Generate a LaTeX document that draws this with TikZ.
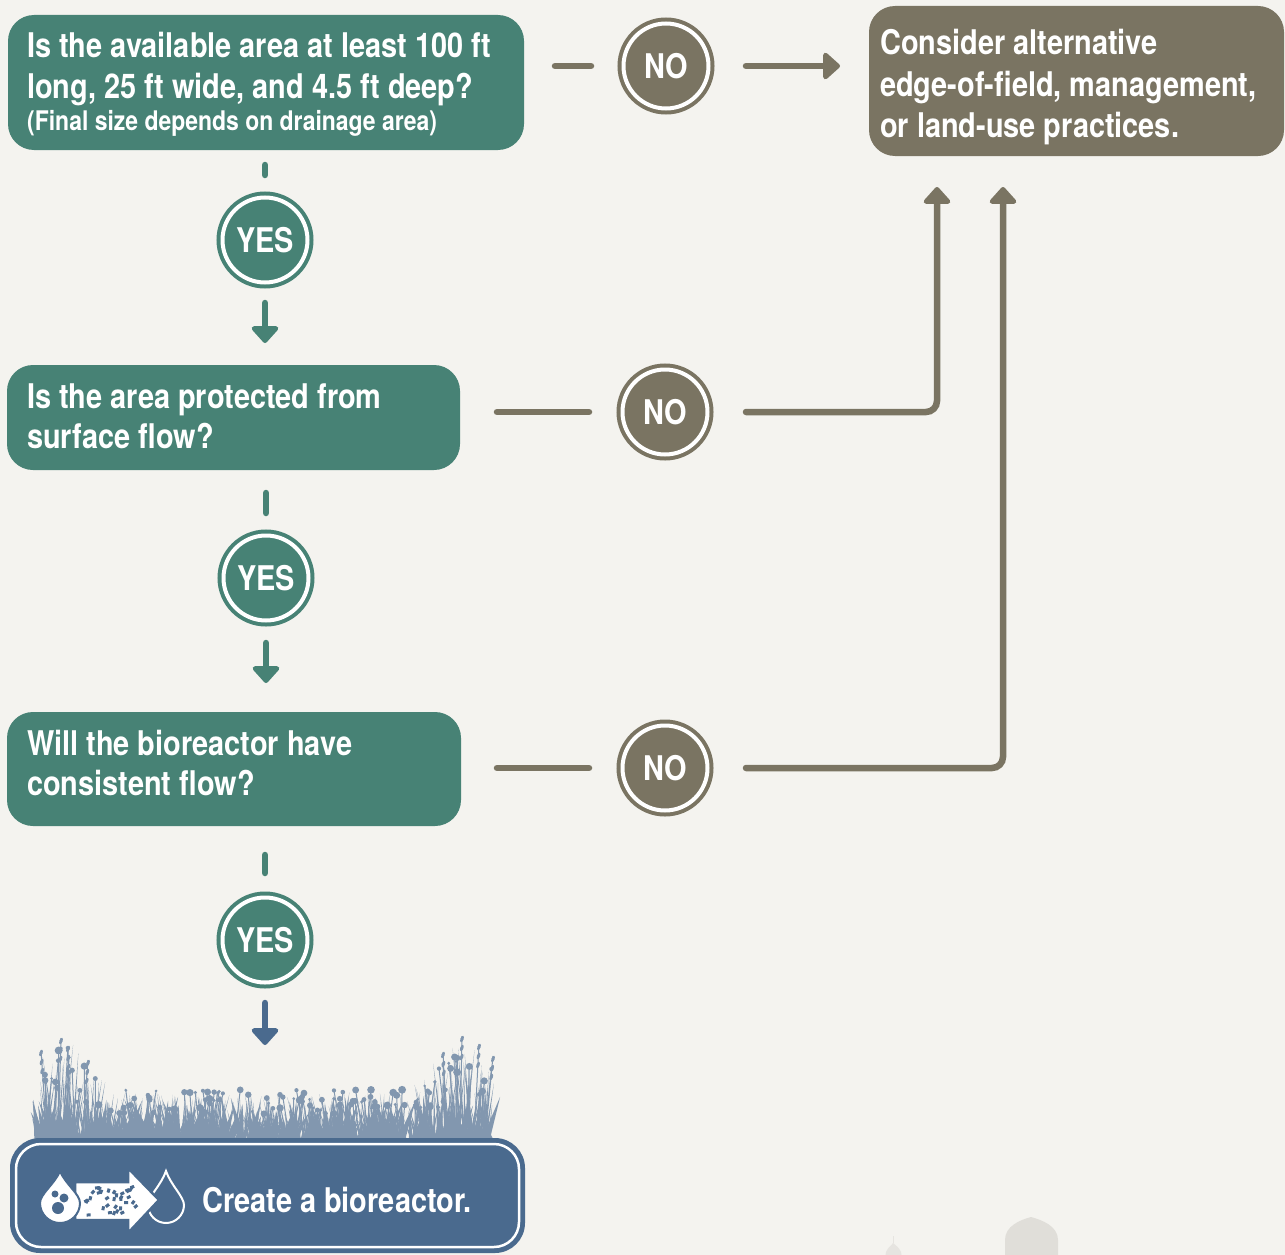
\documentclass[tikz,border=0pt]{standalone}
\usepackage{fontspec}
\usetikzlibrary{arrows.meta}
\newfontfamily\cond{texgyreheros-bold.otf}[FakeStretch=0.85]

\definecolor{paper}{HTML}{F4F3EF}
\definecolor{qgreen}{HTML}{478275}
\definecolor{qbrown}{HTML}{7A7462}
\definecolor{qblue}{HTML}{4A6A8E}
\definecolor{qgrass}{HTML}{8297AF}
\definecolor{dome}{HTML}{E0DED9}

\tikzset{
  qbox/.style={rectangle, rounded corners=26pt, fill=qgreen, inner sep=0pt, outer sep=0pt},
  altbox/.style={qbox, fill=qbrown},
  qtext/.style={anchor=base west, inner sep=0pt, text=white,
    font=\cond\fontsize{34}{41}\selectfont},
  smalltext/.style={qtext, font=\cond\fontsize{27}{32}\selectfont},
  badge/.style={circle, minimum size=85pt, inner sep=0pt, outer sep=0pt,
    fill=#1, draw=white, line width=4pt,
    preaction={draw=#1, line width=12pt},
    text=white, font=\cond\fontsize{34}{41}\selectfont},
  nobadge/.style={badge=qbrown},
  yesbadge/.style={badge=qgreen},
  link/.style={line width=6.5pt, line cap=round, draw=#1},
  link/.default=qbrown,
  linkarrow/.style={link=#1, -{Triangle[width=31pt,length=18pt,round]}},
  linkarrow/.default=qbrown,
}

% teardrop: #1 = x, #2 = y of the bowl centre, #3 = bowl radius, #4 = tip height above the centre
\newcommand{\droppath}[4]{%
  (#1,#2-#4) .. controls (#1+0.25*#3,#2-0.6*#4) and (#1+#3,#2-0.45*#3) .. (#1+#3,#2)
  .. controls (#1+#3,#2+0.55*#3) and (#1+0.55*#3,#2+#3) .. (#1,#2+#3)
  .. controls (#1-0.55*#3,#2+#3) and (#1-#3,#2+0.55*#3) .. (#1-#3,#2)
  .. controls (#1-#3,#2-0.45*#3) and (#1-0.25*#3,#2-0.6*#4) .. (#1,#2-#4) -- cycle}

\begin{document}
\begin{tikzpicture}[x=1pt, y=-1pt]
  % page
  \fill[paper] (0,0) rectangle (1285,1255);
  \useasboundingbox (0,0) rectangle (1285,1255);

  % faint decorations at the bottom edge
  \fill[dome] (1005,1258) -- (1005,1240) .. controls (1005,1226) and (1020,1220) .. (1031,1217)
     .. controls (1042,1220) and (1058,1226) .. (1058,1240) -- (1058,1258) -- cycle;
  \fill[dome!70!paper] (885,1258) -- (886,1252) .. controls (888,1247) and (892,1245) .. (893,1243)
     .. controls (895,1245) and (899,1247) .. (901,1252) -- (902,1258) -- cycle;
  \draw[dome!70!paper, line width=1pt] (893,1243) -- (893,1236);

  % question boxes
  \node[qbox, minimum width=516pt, minimum height=135pt] (q1) at (266,82.5) {};
  \node[qbox, minimum width=453pt, minimum height=105pt] (q2) at (233.5,417.5) {};
  \node[qbox, minimum width=454pt, minimum height=114pt] (q3) at (234,769) {};
  \node[altbox, minimum width=415pt, minimum height=150pt] (alt) at (1076.5,81) {};

  \node[qtext] (q1a) at (27,58) {Is the available area at least 100 ft};
  \node[qtext] (q1b) at (27,99) {long, 25 ft wide, and 4.5 ft deep?};
  \node[smalltext] (q1c) at (27,130) {(Final size depends on drainage area)};
  \node[qtext] (q2a) at (27,408) {Is the area protected from};
  \node[qtext] (q2b) at (27,448) {surface flow?};
  \node[qtext] (q3a) at (27,755) {Will the bioreactor have};
  \node[qtext] (q3b) at (27,795) {consistent flow?};
  \node[qtext] (alta) at (880,55) {Consider alternative};
  \node[qtext] (altb) at (880,96) {edge-of-field, management,};
  \node[qtext] (altc) at (880,137) {or land-use practices.};

  % answer badges
  \node[nobadge] (no1) at (666,66) {NO};
  \node[nobadge] (no2) at (665,412) {NO};
  \node[nobadge] (no3) at (665,768) {NO};
  \node[yesbadge] (yes1) at (265,240) {YES};
  \node[yesbadge] (yes2) at (266,578) {YES};
  \node[yesbadge] (yes3) at (265,940) {YES};

  % entry points under the alternative box
  \coordinate (altin2) at ([xshift=68pt]alt.south west);
  \coordinate (altin3) at ([xshift=134pt]alt.south west);

  % "no" branches
  \draw[link, shorten <=31pt, shorten >=32.5pt] (q1.east |- no1) -- (no1.west);
  \draw[linkarrow, shorten <=37.5pt, shorten >=29pt] (no1.east) -- (alt.west |- no1);
  \draw[link, shorten <=37pt, shorten >=33.5pt] (q2.east |- no2) -- (no2.west);
  \draw[linkarrow, rounded corners=11pt, shorten <=38.5pt, shorten >=31pt] (no2.east) -| (altin2);
  \draw[link, shorten <=36pt, shorten >=33.5pt] (q3.east |- no3) -- (no3.west);
  \draw[linkarrow, rounded corners=11pt, shorten <=38.5pt, shorten >=31pt] (no3.east) -| (altin3);

  % "yes" branches
  \draw[link=qgreen, shorten <=15pt, shorten >=22.5pt] (q1.south -| yes1) -- (yes1.north);
  \draw[linkarrow=qgreen, shorten <=20.5pt, shorten >=22pt] (yes1.south) -- (q2.north -| yes1);
  \draw[link=qgreen, shorten <=23pt, shorten >=22.5pt] (q2.south -| yes2) -- (yes2.north);
  \draw[linkarrow=qgreen, shorten <=22.5pt, shorten >=29pt] (yes2.south) -- (q3.north -| yes2);
  \draw[link=qgreen, shorten <=29pt, shorten >=24.5pt] (q3.south -| yes3) -- (yes3.north);

  % meadow above the result
  \pgfmathsetseed{11}
  % low tufts
  \foreach \i in {1,...,200}{
    \pgfmathsetmacro\gx{38+455*rnd}
    \pgfmathsetmacro\gh{14+30*rnd}
    \pgfmathsetmacro\gd{(rnd-0.5)*32}
    \fill[qgrass] (\gx-4,1140) -- (\gx+\gd,1140-\gh) -- (\gx+4,1140) -- cycle;
  }
  % blades, taller towards both ends
  \foreach \i in {1,...,420}{
    \pgfmathsetmacro\gx{40+450*rnd}
    \pgfmathsetmacro\env{48+50*max(0,1-abs(\gx-65)/42)+50*max(0,1-abs(\gx-460)/42)}
    \pgfmathsetmacro\gh{\env*(0.35+0.65*rnd)}
    \pgfmathsetmacro\gd{(rnd-0.5)*24}
    \fill[qgrass] (\gx-1.2,1140) -- (\gx+\gd,1140-\gh) -- (\gx+1.2,1140) -- cycle;
  }
  % flower stems
  \foreach \i in {1,...,130}{
    \pgfmathsetmacro\gx{42+446*rnd}
    \pgfmathsetmacro\env{52+46*max(0,1-abs(\gx-65)/42)+46*max(0,1-abs(\gx-460)/42)}
    \pgfmathsetmacro\gh{\env*(0.5+0.5*rnd)}
    \pgfmathsetmacro\gd{(rnd-0.5)*18}
    \pgfmathsetmacro\gr{1.3+2.7*rnd}
    \draw[qgrass, line width=1pt] (\gx,1140) -- (\gx+\gd,1140-\gh);
    \fill[qgrass] (\gx+\gd,1140-\gh) circle (\gr pt);
  }
  % thin seed stalks at the tall ends
  \foreach \sx/\sd/\sh in {47/-6/90, 58/3/102, 70/-2/94, 82/6/80, 447/-4/88, 460/2/104, 474/5/96, 485/8/84}{
    \draw[qgrass, line width=1pt] (\sx,1140) -- (\sx+\sd,1140-\sh);
    \foreach \k in {0,9,18}{
      \fill[qgrass, rotate around={-20:(\sx+\sd-\sd*\k/\sh,1140-\sh+\k+3)}]
        (\sx+\sd-\sd*\k/\sh,1140-\sh+\k+3) ellipse (1.6pt and 3.4pt);
    }
  }

  % result box
  \draw[linkarrow=qblue, shorten <=20.5pt, shorten >=93pt] (yes3.south) -- (yes3.south |- 0,1138);
  \node[qbox, fill=qblue, rounded corners=30pt, minimum width=515pt, minimum height=115pt] (done) at (267.5,1195.5) {};
  \draw[white, line width=2.5pt, rounded corners=25pt]
    ([xshift=6pt,yshift=-6pt]done.north west) rectangle ([xshift=-6pt,yshift=6pt]done.south east);
  \node[qtext] (donet) at (202,1212) {Create a bioreactor.};

  % icon: dirty drop, filter arrow, clean drop
  \draw[white, line width=2pt] \droppath{166}{1205}{18}{34};
  \fill[white, draw=qblue, line width=2.5pt]
    (75,1182) -- (128,1182) -- (128,1168) -- (159,1200) -- (128,1233) -- (128,1220) -- (75,1220) -- cycle;
  \begin{scope}
    \clip (82,1185) rectangle (140,1217);
    \pgfmathsetseed{5}
    \foreach \i in {1,...,34}{
      \pgfmathsetmacro\sx{84+54*rnd}
      \pgfmathsetmacro\sy{1186+29*rnd}
      \pgfmathsetmacro\sr{90*rnd}
      \fill[qblue, rotate around={\sr:(\sx,\sy)}] (\sx-2,\sy-1.5) rectangle (\sx+2,\sy+1.5);
    }
  \end{scope}
  \fill[white, draw=qblue, line width=2pt] \droppath{60}{1203}{20}{32};
  \fill[qblue] (55,1194) circle (3.5pt) (64,1198) circle (4.5pt) (58,1208) circle (6pt);
\end{tikzpicture}
\end{document}
